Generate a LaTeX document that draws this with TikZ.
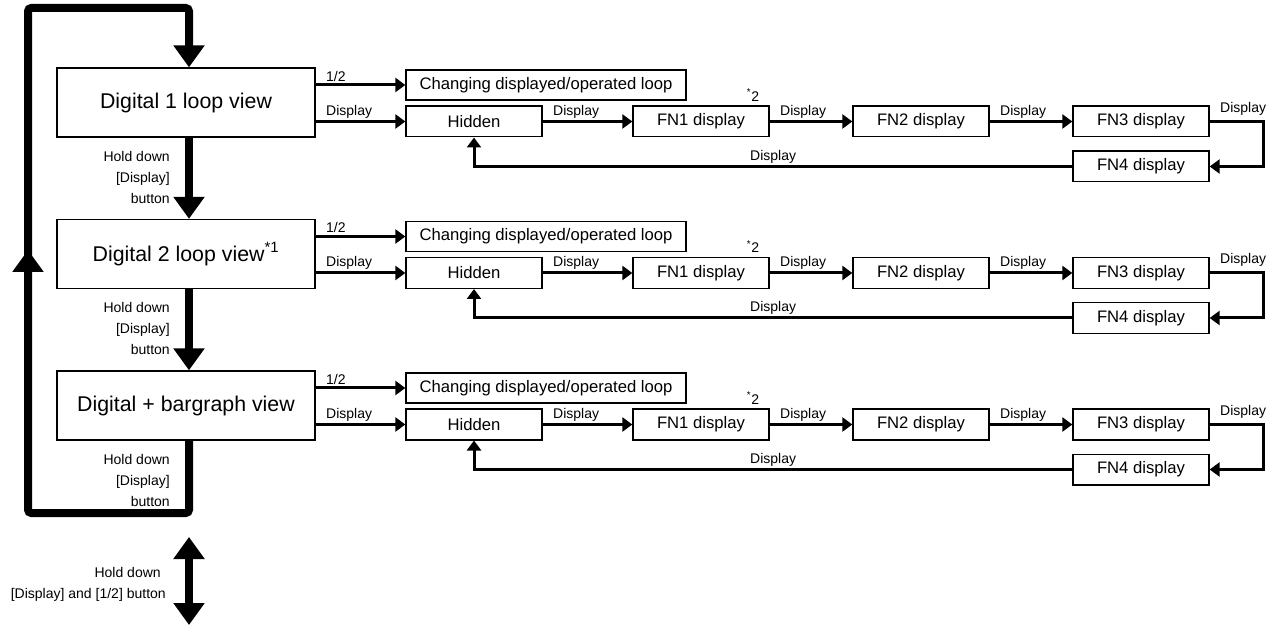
\documentclass[tikz,border=0pt]{standalone}
\usepackage{fontspec}
\setmainfont{Liberation Sans}
\usetikzlibrary{arrows.meta,calc}
\begin{document}
\begin{tikzpicture}[x=0.75pt,y=-0.75pt,
  mainbox/.style={draw, line width=1pt, minimum width=193.5pt, minimum height=51.75pt, inner sep=0pt, font=\fontsize{16}{18}\selectfont},
  chgbox/.style={draw, line width=1pt, minimum width=210pt, minimum height=22.5pt, inner sep=0pt, font=\fontsize{12.5}{15}\selectfont},
  fnbox/.style={draw, line width=1pt, minimum width=102pt, minimum height=23pt, inner sep=0pt, font=\fontsize{12.5}{15}\selectfont},
  lbl/.style={font=\fontsize{10.5}{12}\selectfont, inner sep=1.5pt},
  holdlbl/.style={font=\fontsize{10.5}{15.75}\selectfont, inner sep=0pt, align=right, anchor=north east},
  thinarrow/.style={line width=2.25pt, -{Triangle[length=7.5pt,width=10.5pt]}},
  heavy/.style={line width=6pt},
  heavytip/.style={-{Triangle[length=16.5pt,width=22.5pt]}},
  arrowlbl/.style={lbl, pos=0, anchor=south west, xshift=5.25pt}
]
\useasboundingbox (0,0) rectangle (1268,627);

\foreach \r/\t/\dy in {1/{Digital 1 loop view}/0, 2/{Digital 2 loop view\textsuperscript{*1}}/151.5, 3/{Digital + bargraph view}/303}{
  \node[mainbox] (m\r) at (186,102.5+\dy) {\t};
  \node[chgbox] (c\r) at (546,85+\dy) {Changing displayed/operated loop};
  \node[fnbox] (h\r) at (474,121.5+\dy) {Hidden};
  \node[fnbox] (fa\r) at (701,121.5+\dy) {FN1 display};
  \node[fnbox] (fb\r) at (921,121.5+\dy) {FN2 display};
  \node[fnbox] (fc\r) at (1141,121.5+\dy) {FN3 display};
  \node[fnbox] (fd\r) at (1141,166.5+\dy) {FN4 display};
  \node[lbl] (s\r) at (753,95+\dy) {\textsuperscript{*}2};
  \node[holdlbl] (hl\r) at (170,151+\dy) {Hold down\\{[Display]}\\button};
  \draw[thinarrow] (m\r.east |- c\r.west) -- node[arrowlbl]{1/2} (c\r.west);
  \draw[thinarrow] (m\r.east |- h\r.west) -- node[arrowlbl]{Display} (h\r.west);
  \draw[thinarrow] (h\r.east) -- node[arrowlbl]{Display} (fa\r.west);
  \draw[thinarrow] (fa\r.east) -- node[arrowlbl]{Display} (fb\r.west);
  \draw[thinarrow] (fb\r.east) -- node[arrowlbl]{Display} (fc\r.west);
  \draw[thinarrow] (fc\r.east) -- node[arrowlbl, yshift=2pt]{Display} ++(54,0) |- (fd\r.east);
  \draw[thinarrow] (fd\r.west) -- node[lbl, above]{Display} (h\r.south |- fd\r.west) -- (h\r.south);
}

\coordinate (sp) at (189,0);
\draw[heavy, heavytip] (m1.south -| sp) -- (m2.north -| sp);
\draw[heavy, heavytip] (m2.south -| sp) -- (m3.north -| sp);
\draw[heavy, heavytip, rounded corners=2.5pt] (m3.south -| sp) -- (189,513) -- (28,513) -- (28,8) -- (189,8) -- (m1.north -| sp);
\coordinate (upa) at (28,300);
\coordinate (upb) at (28,250);
\draw[heavy, heavytip] (upa) -- (upb);

\coordinate (da) at (189,537);
\coordinate (db) at (189,625);
\draw[heavy, {Triangle[length=16.5pt,width=22.5pt]}-{Triangle[length=16.5pt,width=22.5pt]}] (da) -- (db);
\node[holdlbl] (hb) at (166,567) {Hold down\hspace*{3.75pt}\\{[Display]} and [1/2] button};
\end{tikzpicture}
\end{document}
